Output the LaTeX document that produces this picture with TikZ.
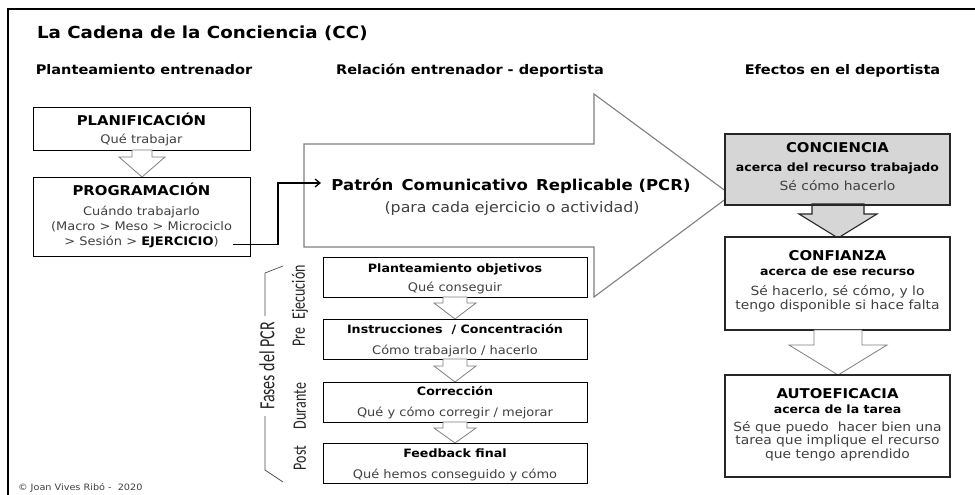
\documentclass[tikz,border=0pt]{standalone}
\usepackage{fontspec}
\setmainfont[FakeStretch=1.1]{DejaVu Sans}
\newfontfamily\rotfont{Carlito}
\usetikzlibrary{arrows.meta}
\definecolor{txtgray}{HTML}{404040}
\definecolor{linegray}{HTML}{7F7F7F}
\definecolor{boxgray}{HTML}{D6D6D6}
\newcommand{\dnarrow}[7]{%
  \draw[#7] (#1-#5,#2) -- (#1-#5,#3) -- (#1-#6,#3) -- (#1,#4) -- (#1+#6,#3) -- (#1+#5,#3) -- (#1+#5,#2) -- cycle;}
\newcommand{\tallrot}[1]{\scalebox{1}[1.35]{#1}}
\begin{document}
\begin{tikzpicture}[x=1pt,y=-1pt,
  every node/.style={inner sep=0pt, outer sep=0pt},
  lbox/.style={draw=black, line width=0.9pt, fill=white},
  rbox/.style={draw=black!85, line width=1.2pt, fill=white},
  ttl/.style={anchor=base west, font=\bfseries\fontsize{16.6}{18}\selectfont},
  hdr/.style={anchor=base, font=\bfseries\fontsize{13.2}{15}\selectfont},
  bh/.style={anchor=base, font=\bfseries\fontsize{13.5}{15}\selectfont},
  bt/.style={anchor=base, text=txtgray, font=\fontsize{11.8}{14}\selectfont},
  ph/.style={anchor=base, font=\bfseries\fontsize{11.5}{13}\selectfont},
  pt/.style={anchor=base, text=txtgray, font=\fontsize{11.8}{14}\selectfont},
  rh/.style={anchor=base, font=\bfseries\fontsize{13.5}{15}\selectfont},
  ra/.style={anchor=base, font=\bfseries\fontsize{11.4}{13}\selectfont},
  rt/.style={anchor=base, text=txtgray, font=\fontsize{12.6}{14}\selectfont},
  rotlbl/.style={rotate=90, anchor=center, text=black!85, font=\rotfont\fontsize{14}{16}\selectfont},
  hollow/.style={draw=linegray, line width=0.8pt, fill=white},
  grayarrow/.style={draw=black!85, line width=1.1pt, fill=boxgray},
  bigarrow/.style={draw=linegray, line width=1.1pt},
  conn/.style={draw=black, line width=1.3pt, -{Straight Barb[length=5pt,width=8pt]}},
  brk/.style={draw=black!70, line width=0.7pt}
]
\useasboundingbox (0,0) rectangle (975,495);
\fill[white] (0,0) rectangle (975,495);
% frame
\draw[line width=1.5pt] (975,9) -- (8,9) -- (8,495);

% titles
\node[ttl] (title) at (37,39) {La Cadena de la Conciencia (CC)};
\node[hdr] (h1) at (144,74.5) {Planteamiento entrenador};
\node[hdr] (h2) at (470,74.5) {Relación entrenador - deportista};
\node[hdr] (h3) at (842.5,74.5) {Efectos en el deportista};

% left boxes
\node[lbox, minimum width=217pt, minimum height=43pt] (plan) at (141.5,128.5) {};
\node[bh] (planA) at (141.5,125) {PLANIFICACIÓN};
\node[bt] (planB) at (141.5,143) {Qué trabajar};
\dnarrow{142}{150}{157}{177}{10}{23}{hollow}
\node[lbox, minimum width=217pt, minimum height=79pt] (prog) at (141.5,216.5) {};
\node[bh] (progA) at (141.5,195) {PROGRAMACIÓN};
\node[bt] (progB) at (141.5,215) {Cuándo trabajarlo};
\node[bt] (progC) at (141.5,230) {(Macro > Meso > Microciclo};
\node[bt] (progD) at (141.5,245) {> Sesión > \textcolor{black}{\bfseries EJERCICIO})};

% big arrow
\draw[bigarrow] (304,144) -- (594,144) -- (594,94) -- (731,195) -- (594,297) -- (594,247) -- (304,247) -- cycle;
\node[anchor=base, font=\bfseries\fontsize{15}{17}\selectfont] (pcr) at (511,190) {Patrón\hspace{0.55em}Comunicativo\hspace{0.55em}Replicable (PCR)};
\node[anchor=base, text=txtgray, font=\fontsize{14.4}{16}\selectfont] (pcrB) at (512,212) {(para cada ejercicio o actividad)};

% connector
\coordinate (c0) at (233,244.5);
\coordinate (c1) at (278,244.5);
\coordinate (c2) at (278,183);
\coordinate (c3) at (321,183);
\draw[conn] (c0) -- (c1) -- (c2) -- (c3);

% phase boxes
\node[lbox, minimum width=264pt, minimum height=40pt] (f1) at (455,277) {};
\node[ph] (f1A) at (455,272) {Planteamiento objetivos};
\node[pt] (f1B) at (455,291) {Qué conseguir};
\dnarrow{455}{297}{303}{319}{12}{21}{hollow}
\node[lbox, minimum width=264pt, minimum height=40pt] (f2) at (455,339) {};
\node[ph] (f2A) at (455,333) {Instrucciones\ \ / Concentración};
\node[pt] (f2B) at (455,354) {Cómo trabajarlo / hacerlo};
\dnarrow{455}{359}{366}{382}{12}{21}{hollow}
\node[lbox, minimum width=264pt, minimum height=40pt] (f3) at (455,402) {};
\node[ph] (f3A) at (455,395) {Corrección};
\node[pt] (f3B) at (455,416) {Qué y cómo corregir / mejorar};
\dnarrow{455}{422}{428}{443}{12}{21}{hollow}
\node[lbox, minimum width=264pt, minimum height=40pt] (f4) at (455,463) {};
\node[ph] (f4A) at (455,457) {Feedback final};
\node[pt] (f4B) at (455,478) {Qué hemos conseguido y cómo};

% bracket and phase labels
\node[rotlbl, font=\rotfont\fontsize{16}{18}\selectfont] (fases) at (267,366) {\tallrot{Fases del PCR}};
\coordinate (b0) at (283,266);
\coordinate (b1) at (265,273);
\coordinate (b2) at (265,316);
\coordinate (b3) at (265,416);
\coordinate (b4) at (265,470);
\coordinate (b5) at (283,482);
\draw[brk] (b0) -- (b1) -- (b2);
\draw[brk] (b3) -- (b4) -- (b5);
\node[rotlbl] (pre) at (300,306) {\tallrot{Pre\hspace{0.6em}Ejecución}};
\node[rotlbl] (dur) at (300,406) {\tallrot{Durante}};
\node[rotlbl] (post) at (300,458) {\tallrot{Post}};

% right column
\node[rbox, fill=boxgray, minimum width=225pt, minimum height=71pt] (conc) at (837.5,169.5) {};
\node[rh] (concA) at (837.5,152) {CONCIENCIA};
\node[ra] (concB) at (837.5,171) {acerca del recurso trabajado};
\node[rt] (concC) at (837.5,190) {Sé cómo hacerlo};
\dnarrow{838}{204}{214}{238}{26}{39}{grayarrow}
\draw[rbox, fill=none] (conc.south west) -- (conc.south east);
\node[rbox, minimum width=225pt, minimum height=93pt] (conf) at (837.5,283.5) {};
\node[rh] (confA) at (837.5,260) {CONFIANZA};
\node[ra] (confB) at (837.5,275) {acerca de ese recurso};
\node[rt] (confC) at (837.5,295) {Sé hacerlo, sé cómo, y lo};
\node[rt] (confD) at (837.5,309) {tengo disponible si hace falta};
\dnarrow{838}{330}{345}{375}{24}{49}{hollow}
\node[rbox, minimum width=225pt, minimum height=102pt] (auto) at (837.5,426) {};
\node[rh] (autoA) at (837.5,398) {AUTOEFICACIA};
\node[ra] (autoB) at (837.5,413) {acerca de la tarea};
\node[rt] (autoC) at (837.5,431) {Sé que puedo\ \ hacer bien una};
\node[rt] (autoD) at (837.5,444.5) {tarea que implique el recurso};
\node[rt] (autoE) at (837.5,458) {que tengo aprendido};

% copyright
\node[anchor=base west, text=black!75, font=\fontsize{8.8}{10}\selectfont] (copy) at (18,490) {© Joan Vives Ribó -\ \ 2020};
\end{tikzpicture}
\end{document}
